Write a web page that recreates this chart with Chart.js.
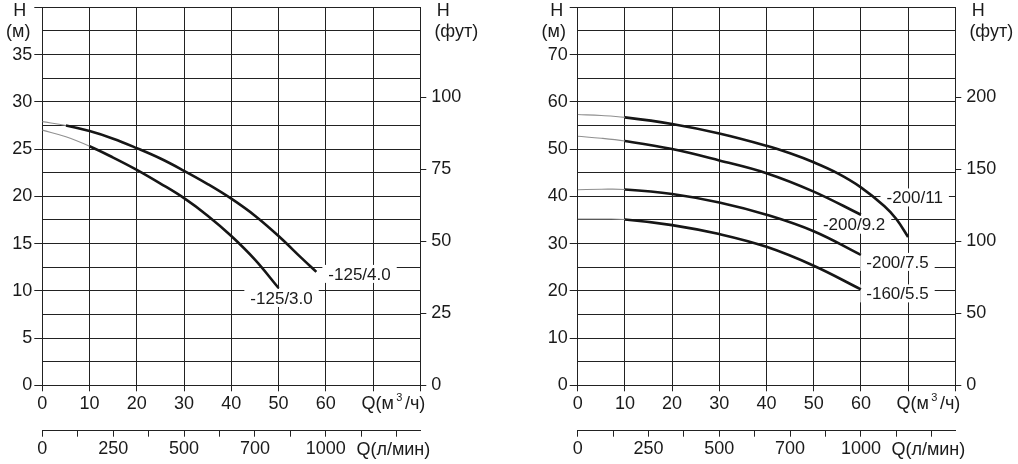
<!DOCTYPE html>
<html><head><meta charset="utf-8">
<script src="https://cdn.jsdelivr.net/npm/chart.js@4.4.1/dist/chart.umd.min.js"></script>
<style>
html,body{margin:0;padding:0;background:#fff;overflow:hidden}
#wrap{position:relative;width:1018px;height:464px;background:#fff}
canvas{position:absolute;top:0}
#c1{left:0}
#c2{left:500px}
</style></head><body>
<div id="wrap"><canvas id="c1" width="500" height="464"></canvas><canvas id="c2" width="518" height="464"></canvas></div>
<script>
// ---------- DATA ----------
// Left chart curves: Q (m3/h) vs H (m)
const q_125_40 = [0, 5, 10, 15, 20, 25, 30, 35, 40, 45, 50, 55, 58];
const h_125_40 = [27.9, 27.5, 26.9, 26.1, 25.1, 24.0, 22.7, 21.3, 19.75, 17.95, 15.8, 13.4, 12.0];
const q_125_30 = [0, 5, 10, 15, 20, 25, 30, 35, 40, 45, 50];
const h_125_30 = [27.0, 26.3, 25.3, 24.1, 22.8, 21.35, 19.8, 17.95, 15.8, 13.3, 10.3];
// Right chart curves
const q_200_11 = [0, 5, 10, 20, 30, 40, 45, 50, 55, 60, 65, 67.5, 70];
const h_200_11 = [57.3, 57.1, 56.7, 55.3, 53.3, 50.7, 49.1, 47.2, 44.9, 41.9, 37.9, 35.2, 31.4];
const q_200_92 = [0, 5, 10, 20, 30, 40, 50, 60];
const h_200_92 = [52.7, 52.3, 51.7, 50.0, 47.6, 44.9, 41.0, 36.1];
const q_200_75 = [0, 5, 10, 20, 30, 40, 50, 60];
const h_200_75 = [41.4, 41.5, 41.45, 40.5, 38.7, 36.1, 32.6, 27.6];
const q_160_55 = [0, 5, 10, 20, 30, 40, 50, 60];
const h_160_55 = [35.2, 35.2, 35.1, 33.9, 32.0, 29.3, 25.3, 20.3];

const leftNames = ['-125/4.0', '-125/3.0'];
const rightNames = ['-200/11', '-200/9.2', '-200/7.5', '-160/5.5'];

// Tick values and labels
const Q_TICKS = [0, 10, 20, 30, 40, 50, 60, 70, 80];
const Q_LABELS = ['0', '10', '20', '30', '40', '50', '60', '', ''];
const LPM_TICKS = [0, 125, 250, 375, 500, 625, 750, 875, 1000, 1125, 1250];
const LPM_LABELS = ['0', '', '250', '', '500', '', '700', '', '1000', '', ''];
const H_LEFT_TICKS = [0, 2.5, 5, 7.5, 10, 12.5, 15, 17.5, 20, 22.5, 25, 27.5, 30, 32.5, 35, 37.5, 40];
const H_LEFT_LABELS = ['0', '', '5', '', '10', '', '15', '', '20', '', '25', '', '30', '', '35', '', ''];
const FT_LEFT_TICKS = [0, 25, 50, 75, 100];
const H_RIGHT_TICKS = [0, 5, 10, 15, 20, 25, 30, 35, 40, 45, 50, 55, 60, 65, 70, 75, 80];
const H_RIGHT_LABELS = ['0', '', '10', '', '20', '', '30', '', '40', '', '50', '', '60', '', '70', '', ''];
const FT_RIGHT_TICKS = [0, 50, 100, 150, 200];

const Q_MAX = 80;
const H_LEFT_MAX = 40, H_RIGHT_MAX = 80;
const M_PER_FT = 0.3048;
const LPM_PER_M3H = 1000 / 60;

// ---------- STYLE ----------
const FONT_FAMILY = '"Liberation Sans", Arial, Helvetica, sans-serif';
const TICK_SIZE = 18;
const LABEL_SIZE = 17;
const TEXT = '#1a1a1a';
const GRID = '#222';
const CURVE = '#161616';
const THIN = '#909090';

function curveDataset(q, h, thinEnd) {
  return {
    data: q.map((x, i) => ({x: x, y: h[i]})),
    xAxisID: 'x', yAxisID: 'y',
    borderColor: CURVE, borderWidth: 2.6,
    pointRadius: 0, fill: false,
    tension: 0.4,
    borderJoinStyle: 'round',
    segment: {
      borderWidth: c => c.p1.parsed.x <= thinEnd ? 1.1 : 2.6,
      borderColor: c => c.p1.parsed.x <= thinEnd ? THIN : CURVE
    }
  };
}

const textPlugin = {
  id: 'texts',
  beforeDatasetsDraw(chart, args, opts) {
    const ctx = chart.ctx;
    ctx.save();
    ctx.font = LABEL_SIZE + 'px ' + FONT_FAMILY;
    ctx.textBaseline = 'middle';
    ctx.textAlign = 'left';
    opts.labels.forEach(l => {
      const ds = chart.data.datasets[l.ds];
      const last = ds.data[ds.data.length - 1];
      const px = chart.scales.x.getPixelForValue(last.x) + l.dx;
      const py = chart.scales.y.getPixelForValue(last.y) + l.dy;
      const w = ctx.measureText(l.text).width;
      const x0 = l.align === 'center' ? px - w / 2 : px;
      ctx.fillStyle = '#fff';
      ctx.fillRect(x0 - 6, py - 9, w + 12, 18);
      ctx.fillStyle = TEXT;
      ctx.fillText(l.text, x0, py + 1);
    });
    ctx.restore();
  },
  afterDraw(chart, args, opts) {
    const ctx = chart.ctx;
    const a = chart.chartArea;
    ctx.save();
    ctx.fillStyle = TEXT;
    ctx.textBaseline = 'middle';
    ctx.textAlign = 'center';
    const f = TICK_SIZE + 'px ' + FONT_FAMILY;
    const fs = '11px ' + FONT_FAMILY;
    ctx.font = f;
    ctx.fillText('H', a.left - opts.hLeft, a.top + 4);
    ctx.fillText('(м)', a.left - opts.mLeft, a.top + 25);
    ctx.fillText('H', a.right + 23, a.top + 4);
    ctx.fillText('(фут)', a.right + 36, a.top + 25);
    // Q(m3/h) label
    const yq = a.bottom + 19;
    const p1 = 'Q(м', p2 = '3', p3 = '/ч)';
    ctx.font = f;
    const w1 = ctx.measureText(p1).width, w3 = ctx.measureText(p3).width;
    ctx.font = fs;
    const w2 = ctx.measureText(p2).width;
    const gap = 2.5;
    const total = w1 + gap + w2 + gap + w3;
    let x = a.right + 5 - total;
    ctx.textAlign = 'left';
    ctx.font = f;
    ctx.fillText(p1, x, yq);
    x += w1 + gap;
    ctx.font = fs;
    ctx.fillText(p2, x, yq - 6);
    x += w2 + gap;
    ctx.font = f;
    ctx.fillText(p3, x, yq);
    // Q(l/min) label
    ctx.textAlign = 'right';
    ctx.fillText('Q(л/мин)', a.right + 10, a.bottom + 65);
    ctx.restore();
  }
};

function makeChart(id, cfg) {
  const font = {family: FONT_FAMILY, size: TICK_SIZE};
  return new Chart(document.getElementById(id), {
    type: 'line',
    data: {datasets: cfg.datasets},
    options: {
      responsive: false,
      animation: false,
      events: [],
      layout: {padding: {top: 7.3, left: 0, right: 0, bottom: 0}},
      plugins: {legend: {display: false}, tooltip: {enabled: false}, texts: cfg.texts},
      scales: {
        x: {
          type: 'linear', position: 'bottom', weight: 0, min: 0, max: Q_MAX,
          afterBuildTicks: s => { s.ticks = Q_TICKS.map(v => ({value: v})); },
          ticks: {callback: (v, i) => Q_LABELS[i], font: font, color: TEXT, padding: 2, maxRotation: 0, autoSkip: false},
          grid: {color: GRID, lineWidth: 1, tickLength: 6, tickColor: GRID},
          border: {display: false},
          afterFit: s => { s.height = 45.4; s.paddingLeft = 0; s.paddingRight = 0; }
        },
        x2: {
          type: 'linear', position: 'bottom', weight: 1, min: 0, max: Q_MAX * LPM_PER_M3H,
          afterBuildTicks: s => { s.ticks = LPM_TICKS.map(v => ({value: v})); },
          ticks: {callback: (v, i) => LPM_LABELS[i], font: font, color: TEXT, padding: 2, maxRotation: 0, autoSkip: false},
          grid: {drawOnChartArea: false, color: GRID, lineWidth: 1, tickLength: 6, tickColor: GRID},
          border: {display: true, color: GRID, width: 1},
          afterFit: s => { s.height = 33.3; s.paddingLeft = 0; s.paddingRight = 0; }
        },
        y: {
          type: 'linear', position: 'left', min: 0, max: cfg.hMax,
          afterBuildTicks: s => { s.ticks = cfg.hTicks.map(v => ({value: v})); },
          ticks: {callback: (v, i) => cfg.hLabels[i], font: font, color: TEXT, padding: 2, autoSkip: false},
          grid: {color: GRID, lineWidth: 1, tickLength: 8,
                 tickColor: c => (c.tick && c.tick.value % cfg.hMajor === 0) ? GRID : 'rgba(0,0,0,0)'},
          border: {display: true, color: GRID, width: 1},
          afterFit: s => { s.width = cfg.leftW; s.paddingTop = 0; s.paddingBottom = 0; }
        },
        yft: {
          type: 'linear', position: 'right', min: 0, max: cfg.hMax / M_PER_FT,
          afterBuildTicks: s => { s.ticks = cfg.ftTicks.map(v => ({value: v})); },
          ticks: {font: font, color: TEXT, padding: 5, autoSkip: false},
          grid: {drawOnChartArea: false, color: GRID, lineWidth: 1, tickLength: 6, tickColor: GRID},
          border: {display: true, color: GRID, width: 1},
          afterFit: s => { s.width = cfg.rightW; s.paddingTop = 0; s.paddingBottom = 0; }
        }
      }
    },
    plugins: [textPlugin]
  });
}

makeChart('c1', {
  datasets: [curveDataset(q_125_40, h_125_40, 5), curveDataset(q_125_30, h_125_30, 10)],
  hMax: H_LEFT_MAX, hTicks: H_LEFT_TICKS, hLabels: H_LEFT_LABELS, hMajor: 5, ftTicks: FT_LEFT_TICKS,
  leftW: 42.3, rightW: 79.7,
  texts: {
    hLeft: 22.5, mLeft: 24,
    labels: [
      {ds: 0, text: leftNames[0], dx: 12, dy: 2, align: 'left'},
      {ds: 1, text: leftNames[1], dx: 3, dy: 10, align: 'center'}
    ]
  }
});

makeChart('c2', {
  datasets: [curveDataset(q_200_11, h_200_11, 10), curveDataset(q_200_92, h_200_92, 10),
             curveDataset(q_200_75, h_200_75, 10), curveDataset(q_160_55, h_160_55, 10)],
  hMax: H_RIGHT_MAX, hTicks: H_RIGHT_TICKS, hLabels: H_RIGHT_LABELS, hMajor: 10, ftTicks: FT_RIGHT_TICKS,
  leftW: 77.7, rightW: 62.7,
  texts: {
    hLeft: 21, mLeft: 24,
    labels: [
      {ds: 0, text: rightNames[0], dx: -21.6, dy: -39.5, align: 'left'},
      {ds: 1, text: rightNames[1], dx: -38, dy: 10, align: 'left'},
      {ds: 2, text: rightNames[2], dx: 5.4, dy: 7, align: 'left'},
      {ds: 3, text: rightNames[3], dx: 5.4, dy: 4, align: 'left'}
    ]
  }
});
</script>
</body></html>
